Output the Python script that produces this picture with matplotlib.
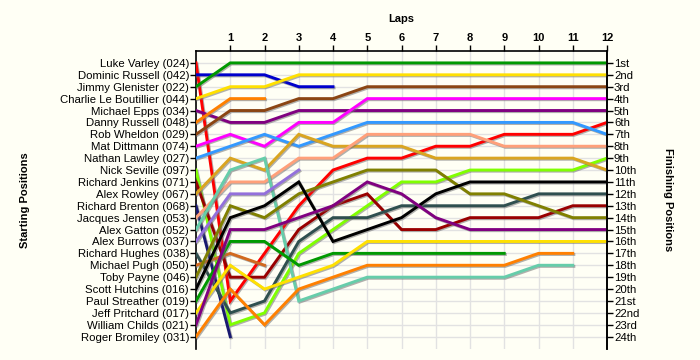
import matplotlib
matplotlib.use('Agg')
import matplotlib.pyplot as plt
import matplotlib.patheffects as pe

plt.rcParams['font.family'] = ['Liberation Sans', 'DejaVu Sans']

# ---------------- data ----------------
laps = list(range(13))
lap_labels = ['1', '2', '3', '4', '5', '6', '7', '8', '9', '10', '11', '12']

drivers = [
    "Luke Varley (024)", "Dominic Russell (042)", "Jimmy Glenister (022)",
    "Charlie Le Boutillier (044)", "Michael Epps (034)", "Danny Russell (048)",
    "Rob Wheldon (029)", "Mat Dittmann (074)", "Nathan Lawley (027)",
    "Nick Seville (097)", "Richard Jenkins (071)", "Alex Rowley (067)",
    "Richard Brenton (068)", "Jacques Jensen (053)", "Alex Gatton (052)",
    "Alex Burrows (037)", "Richard Hughes (038)", "Michael Pugh (050)",
    "Toby Payne (046)", "Scott Hutchins (016)", "Paul Streather (019)",
    "Jeff Pritchard (017)", "William Childs (021)", "Roger Bromiley (031)",
]

finish_labels = ["1st", "2nd", "3rd", "4th", "5th", "6th", "7th", "8th",
                 "9th", "10th", "11th", "12th", "13th", "14th", "15th",
                 "16th", "17th", "18th", "19th", "20th", "21st", "22nd",
                 "23rd", "24th"]

# position at lap 0, 1, 2, ... (list ends when the car stops)
luke_varley      = [1, 21, 17, 13, 10, 9, 9, 8, 8, 7, 7, 7, 6]
dominic_russell  = [2, 2, 2, 3, 3]
jimmy_glenister  = [3, 1, 1, 1, 1, 1, 1, 1, 1, 1, 1, 1, 1]
charlie_le_b     = [4, 3, 3, 2, 2, 2, 2, 2, 2, 2, 2, 2, 2]
michael_epps     = [5, 6, 6, 5, 5, 5, 5, 5, 5, 5, 5, 5, 5]
danny_russell    = [6, 4, 4]
rob_wheldon      = [7, 5, 5, 4, 4, 3, 3, 3, 3, 3, 3, 3, 3]
mat_dittmann     = [8, 7, 8, 6, 6, 4, 4, 4, 4, 4, 4, 4, 4]
nathan_lawley    = [9, 8, 7, 8, 7, 6, 6, 6, 6, 6, 6, 6, 7]
nick_seville     = [10, 23, 22, 17, 15, 13, 11, 11, 10, 10, 10, 10, 9]
richard_jenkins  = [11, 19, 19, 15, 13, 12, 15, 15, 14, 14, 14, 13, 13]
alex_rowley      = [12, 9, 10, 7, 8, 8, 8, 9, 9, 9, 9, 9, 10]
richard_brenton  = [13, 24]
jacques_jensen   = [14, 11, 11, 9, 9, 7, 7, 7, 7, 8, 8, 8, 8]
alex_gatton      = [15, 10, 9, 21, 20, 19, 19, 19, 19, 19, 18, 18]
alex_burrows     = [16, 12, 12, 10]
richard_hughes   = [17, 22, 21, 16, 14, 14, 13, 13, 13, 13, 12, 12, 12]
michael_pugh     = [18, 17, 18]
toby_payne       = [19, 13, 14, 12, 11, 10, 10, 10, 12, 12, 13, 14, 14]
scott_hutchins   = [20, 14, 13, 11, 16, 15, 14, 12, 11, 11, 11, 11, 11]
paul_streather   = [21, 16, 16, 18, 17, 17, 17, 17, 17, 17]
jeff_pritchard   = [22, 18, 20, 19, 18, 16, 16, 16, 16, 16, 16, 16, 16]
william_childs   = [23, 15, 15, 14, 13, 11, 12, 14, 15, 15, 15, 15, 15]
roger_bromiley   = [24, 20, 23, 20, 19, 18, 18, 18, 18, 18, 17, 17]

positions = [luke_varley, dominic_russell, jimmy_glenister, charlie_le_b,
             michael_epps, danny_russell, rob_wheldon, mat_dittmann,
             nathan_lawley, nick_seville, richard_jenkins, alex_rowley,
             richard_brenton, jacques_jensen, alex_gatton, alex_burrows,
             richard_hughes, michael_pugh, toby_payne, scott_hutchins,
             paul_streather, jeff_pritchard, william_childs, roger_bromiley]

colors = ['#FF0000', '#0000CC', '#009900', '#FFE000', '#800080', '#FF8000',
          '#8B4513', '#FF00FF', '#3399FF', '#80FF00', '#990000', '#DAA520',
          '#191970', '#FFA07A', '#66CDAA', '#9370DB', '#2F4F4F', '#D2691E',
          '#808000', '#000000', '#009900', '#FFE000', '#800080', '#FF8000']

# ---------------- figure ----------------
bg = '#FFFFF5'
fig = plt.figure(figsize=(7, 3.6), dpi=100, facecolor=bg)
left, right, top, bottom = 196, 607, 51, 348.6
ax = fig.add_axes([left / 700, 1 - bottom / 360, (right - left) / 700,
                   (bottom - top) / 360])
ax.set_facecolor(bg)

n = len(drivers)
ax.set_xlim(0, 12)
ax.set_ylim(n + 1, 0)

# grid
for x in range(1, 12):
    ax.axvline(x, color='#E2E2E2', lw=1, zorder=0)
for y in range(1, n + 1):
    ax.axhline(y, color='#E2E2E2', lw=1, zorder=0)

shadow = [pe.SimpleLineShadow(offset=(0.8, -0.8), shadow_color='#707070', alpha=0.55),
          pe.Normal()]
for pos, col in zip(positions, colors):
    ax.plot(laps[:len(pos)], pos, color=col, lw=2.1, solid_joinstyle='miter',
            path_effects=shadow, zorder=3)

# axes styling
ax.spines['bottom'].set_visible(False)
for s in ['left', 'top', 'right']:
    ax.spines[s].set_color('black')
    ax.spines[s].set_linewidth(1.2)

ax.xaxis.tick_top()
ax.set_xticks(range(1, 13))
ax.set_xticklabels(lap_labels, fontsize=8, fontweight='bold')
ax.tick_params(axis='x', length=4, width=1, pad=2, top=True, bottom=False)
ax.set_xlabel('Laps', fontsize=8, fontweight='bold', labelpad=8)
ax.xaxis.set_label_position('top')

ax.set_yticks(range(1, n + 1))
ax.set_yticklabels(drivers, fontsize=8.2)
ax.tick_params(axis='y', length=4, width=1, pad=1)
ax.set_ylabel('Starting Positions', fontsize=8, fontweight='bold')
ax.yaxis.set_label_coords((30 - left) / (right - left), 0.5)

ax2 = ax.twinx()
ax2.set_ylim(n + 1, 0)
ax2.set_yticks(range(1, n + 1))
ax2.set_yticklabels(finish_labels, fontsize=8.2)
ax2.tick_params(axis='y', length=4, width=1, pad=1)
for s in ['bottom', 'top', 'left']:
    ax2.spines[s].set_visible(False)
ax2.spines['right'].set_linewidth(1.2)
ax2.set_ylabel('Finishing Positions', fontsize=8, fontweight='bold',
               rotation=270, va='center')
ax2.yaxis.set_label_coords((668 - left) / (right - left), 0.5)

fig.savefig('out.png', dpi=100, facecolor=bg)
